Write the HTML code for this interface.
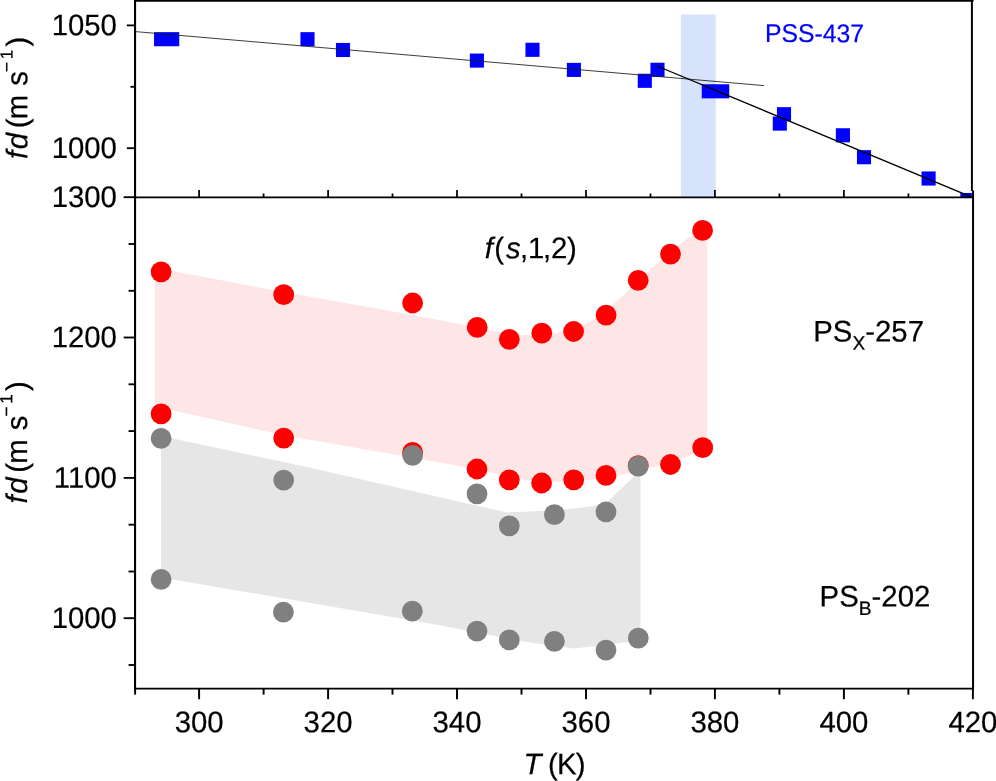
<!DOCTYPE html>
<html><head><meta charset="utf-8"><title>chart</title>
<style>html,body{margin:0;padding:0;background:#fff;}body{width:996px;height:781px;overflow:hidden;position:relative;font-family:"Liberation Sans",sans-serif;}</style></head>
<body>
<svg width="996" height="781" viewBox="0 0 996 781" style="position:absolute;left:0;top:0;display:block;will-change:transform">
<rect x="0" y="0" width="996" height="781" fill="#fff"/>
<rect x="680.9" y="14.4" width="34.8" height="183" fill="#d7e3fa"/>
<polygon points="154.8,267.8 283.7,292.0 412.6,315.0 440.0,320.3 460.0,324.0 477.0,327.0 494.0,331.0 509.3,334.2 525.0,335.3 541.8,334.8 557.0,333.0 573.6,329.0 590.0,321.4 606.1,310.8 622.0,296.6 638.2,281.2 654.6,265.4 670.7,251.6 687.0,238.8 695.0,234.2 702.5,232.0 707.3,231.5 707.3,446.0 702.6,448.5 690.4,455.5 670.5,462.5 649.0,468.6 638.2,471.3 622.0,474.8 606.0,477.8 590.0,480.0 573.7,481.5 557.0,482.0 541.6,481.6 525.0,480.0 509.3,477.5 494.0,473.6 477.0,469.4 460.0,466.2 440.0,462.6 412.6,457.8 330.0,443.3 283.7,435.3 171.3,410.1 154.8,406.4" fill="#ffe6e6"/>
<polygon points="161.1,436.0 300.0,465.5 412.6,491.0 460.0,502.0 477.0,505.8 507.1,512.4 530.0,511.6 554.4,510.3 580.0,507.8 595.7,505.6 606.5,502.4 635.4,475.3 640.4,469.5 640.4,638.5 626.4,642.0 600.0,645.5 574.0,648.6 550.0,645.5 527.4,642.0 500.0,637.0 477.0,632.5 440.0,625.3 283.4,598.3 161.1,577.6" fill="#e6e6e6"/>
<clipPath id="ct"><rect x="135.05" y="0" width="836.85" height="197.3"/></clipPath>
<g clip-path="url(#ct)">
<rect x="300.45" y="32.15" width="14.1" height="14.1" fill="#0000ff"/>
<rect x="335.95" y="42.95" width="14.1" height="14.1" fill="#0000ff"/>
<rect x="469.85" y="53.55" width="14.1" height="14.1" fill="#0000ff"/>
<rect x="525.45" y="42.75" width="14.1" height="14.1" fill="#0000ff"/>
<rect x="566.85" y="62.85" width="14.1" height="14.1" fill="#0000ff"/>
<rect x="637.75" y="73.75" width="14.1" height="14.1" fill="#0000ff"/>
<rect x="650.45" y="62.75" width="14.1" height="14.1" fill="#0000ff"/>
<rect x="776.95" y="107.15" width="14.1" height="14.1" fill="#0000ff"/>
<rect x="772.75" y="116.55" width="14.1" height="14.1" fill="#0000ff"/>
<rect x="835.85" y="128.25" width="14.1" height="14.1" fill="#0000ff"/>
<rect x="856.95" y="150.15" width="14.1" height="14.1" fill="#0000ff"/>
<rect x="921.55" y="171.45" width="14.1" height="14.1" fill="#0000ff"/>
<rect x="960.35" y="192.95" width="14.1" height="14.1" fill="#0000ff"/>
<rect x="154.05" y="32.15" width="25.2" height="14.1" fill="#0000ff"/>
<rect x="701.75" y="84.25" width="27.5" height="14.1" fill="#0000ff"/>
<line x1="135.3" y1="31.6" x2="764" y2="85.6" stroke="#1a1a1a" stroke-width="0.85"/>
<line x1="657" y1="66" x2="973" y2="197.6" stroke="#000" stroke-width="1.35"/>
</g>
<circle cx="161.1" cy="271.8" r="10.4" fill="#ff0000"/>
<circle cx="283.7" cy="294.7" r="10.4" fill="#ff0000"/>
<circle cx="412.6" cy="303.0" r="10.4" fill="#ff0000"/>
<circle cx="477.2" cy="327.4" r="10.4" fill="#ff0000"/>
<circle cx="509.3" cy="339.3" r="10.4" fill="#ff0000"/>
<circle cx="541.8" cy="333.2" r="10.4" fill="#ff0000"/>
<circle cx="573.6" cy="331.5" r="10.4" fill="#ff0000"/>
<circle cx="606.1" cy="315.1" r="10.4" fill="#ff0000"/>
<circle cx="638.2" cy="280.3" r="10.4" fill="#ff0000"/>
<circle cx="670.5" cy="254.1" r="10.4" fill="#ff0000"/>
<circle cx="702.6" cy="230.4" r="10.4" fill="#ff0000"/>
<circle cx="161.1" cy="413.8" r="10.4" fill="#ff0000"/>
<circle cx="283.7" cy="438.1" r="10.4" fill="#ff0000"/>
<circle cx="412.6" cy="452.3" r="10.4" fill="#ff0000"/>
<circle cx="477.0" cy="469.0" r="10.4" fill="#ff0000"/>
<circle cx="509.3" cy="479.8" r="10.4" fill="#ff0000"/>
<circle cx="541.6" cy="483.0" r="10.4" fill="#ff0000"/>
<circle cx="573.7" cy="479.8" r="10.4" fill="#ff0000"/>
<circle cx="606.0" cy="475.4" r="10.4" fill="#ff0000"/>
<circle cx="638.2" cy="465.6" r="10.4" fill="#ff0000"/>
<circle cx="670.5" cy="464.5" r="10.4" fill="#ff0000"/>
<circle cx="702.7" cy="447.7" r="10.4" fill="#ff0000"/>
<circle cx="161.1" cy="438.4" r="10.4" fill="#808080"/>
<circle cx="283.7" cy="480.1" r="10.4" fill="#808080"/>
<circle cx="412.6" cy="455.3" r="10.4" fill="#808080"/>
<circle cx="477.0" cy="493.8" r="10.4" fill="#808080"/>
<circle cx="509.3" cy="525.8" r="10.4" fill="#808080"/>
<circle cx="554.4" cy="514.7" r="10.4" fill="#808080"/>
<circle cx="606.0" cy="511.9" r="10.4" fill="#808080"/>
<circle cx="638.2" cy="466.2" r="10.4" fill="#808080"/>
<circle cx="161.1" cy="579.4" r="10.4" fill="#808080"/>
<circle cx="283.4" cy="612.2" r="10.4" fill="#808080"/>
<circle cx="412.3" cy="611.2" r="10.4" fill="#808080"/>
<circle cx="477.0" cy="631.1" r="10.4" fill="#808080"/>
<circle cx="509.3" cy="639.9" r="10.4" fill="#808080"/>
<circle cx="554.4" cy="641.3" r="10.4" fill="#808080"/>
<circle cx="606.0" cy="650.1" r="10.4" fill="#808080"/>
<circle cx="638.3" cy="638.1" r="10.4" fill="#808080"/>
<g stroke="#000" stroke-linecap="butt" fill="none">
<line x1="135.05" y1="0" x2="135.05" y2="689.5500000000001" stroke-width="2.1"/>
<line x1="971.9" y1="0" x2="971.9" y2="191" stroke-width="1.95"/>
<line x1="973.05" y1="190.4" x2="973.05" y2="689.5500000000001" stroke-width="2.0"/>
<line x1="134.05" y1="0.35" x2="973.6" y2="0.35" stroke-width="2.7"/>
<line x1="134.05" y1="688.6" x2="974.05" y2="688.6" stroke-width="1.9"/>
<line x1="135.05" y1="197.3" x2="973.05" y2="197.3" stroke-width="1.85"/>
<line x1="135.1" y1="688.6" x2="135.1" y2="694.6" stroke-width="1.95"/>
<line x1="199.1" y1="688.6" x2="199.1" y2="699.2" stroke-width="1.95"/>
<line x1="199.1" y1="197.3" x2="199.1" y2="190.10000000000002" stroke-width="1.75"/>
<line x1="263.6" y1="688.6" x2="263.6" y2="694.6" stroke-width="1.95"/>
<line x1="263.6" y1="197.3" x2="263.6" y2="193.5" stroke-width="1.75"/>
<line x1="328.1" y1="688.6" x2="328.1" y2="699.2" stroke-width="1.95"/>
<line x1="328.1" y1="197.3" x2="328.1" y2="190.10000000000002" stroke-width="1.75"/>
<line x1="392.5" y1="688.6" x2="392.5" y2="694.6" stroke-width="1.95"/>
<line x1="392.5" y1="197.3" x2="392.5" y2="193.5" stroke-width="1.75"/>
<line x1="457.0" y1="688.6" x2="457.0" y2="699.2" stroke-width="1.95"/>
<line x1="457.0" y1="197.3" x2="457.0" y2="190.10000000000002" stroke-width="1.75"/>
<line x1="521.5" y1="688.6" x2="521.5" y2="694.6" stroke-width="1.95"/>
<line x1="521.5" y1="197.3" x2="521.5" y2="193.5" stroke-width="1.75"/>
<line x1="586.0" y1="688.6" x2="586.0" y2="699.2" stroke-width="1.95"/>
<line x1="586.0" y1="197.3" x2="586.0" y2="190.10000000000002" stroke-width="1.75"/>
<line x1="650.5" y1="688.6" x2="650.5" y2="694.6" stroke-width="1.95"/>
<line x1="650.5" y1="197.3" x2="650.5" y2="193.5" stroke-width="1.75"/>
<line x1="714.9" y1="688.6" x2="714.9" y2="699.2" stroke-width="1.95"/>
<line x1="714.9" y1="197.3" x2="714.9" y2="190.10000000000002" stroke-width="1.75"/>
<line x1="779.4" y1="688.6" x2="779.4" y2="694.6" stroke-width="1.95"/>
<line x1="779.4" y1="197.3" x2="779.4" y2="193.5" stroke-width="1.75"/>
<line x1="843.9" y1="688.6" x2="843.9" y2="699.2" stroke-width="1.95"/>
<line x1="843.9" y1="197.3" x2="843.9" y2="190.10000000000002" stroke-width="1.75"/>
<line x1="908.4" y1="688.6" x2="908.4" y2="694.6" stroke-width="1.95"/>
<line x1="908.4" y1="197.3" x2="908.4" y2="193.5" stroke-width="1.75"/>
<line x1="972.9" y1="688.6" x2="972.9" y2="699.2" stroke-width="1.95"/>
<line x1="135.05" y1="197.2" x2="123.65" y2="197.2" stroke-width="1.85"/>
<line x1="135.05" y1="244.0" x2="128.55" y2="244.0" stroke-width="1.85"/>
<line x1="135.05" y1="290.8" x2="128.55" y2="290.8" stroke-width="1.85"/>
<line x1="135.05" y1="337.5" x2="123.65" y2="337.5" stroke-width="1.85"/>
<line x1="135.05" y1="384.3" x2="128.55" y2="384.3" stroke-width="1.85"/>
<line x1="135.05" y1="431.1" x2="128.55" y2="431.1" stroke-width="1.85"/>
<line x1="135.05" y1="477.9" x2="123.65" y2="477.9" stroke-width="1.85"/>
<line x1="135.05" y1="524.7" x2="128.55" y2="524.7" stroke-width="1.85"/>
<line x1="135.05" y1="571.5" x2="128.55" y2="571.5" stroke-width="1.85"/>
<line x1="135.05" y1="618.2" x2="123.65" y2="618.2" stroke-width="1.85"/>
<line x1="135.05" y1="665.0" x2="128.55" y2="665.0" stroke-width="1.85"/>
<line x1="135.05" y1="25.4" x2="126.85000000000001" y2="25.4" stroke-width="1.85"/>
<line x1="135.05" y1="86.8" x2="130.45000000000002" y2="86.8" stroke-width="1.85"/>
<line x1="135.05" y1="148.2" x2="126.85000000000001" y2="148.2" stroke-width="1.85"/>
</g>
<g font-family="Liberation Sans, sans-serif" fill="#000" stroke="#000" stroke-width="0.22" stroke-linejoin="round">
<text transform="translate(199.10,732.30) rotate(0.03) scale(0.985,1)" font-size="29.8" text-anchor="middle">300</text>
<text transform="translate(328.06,732.30) rotate(0.03) scale(0.985,1)" font-size="29.8" text-anchor="middle">320</text>
<text transform="translate(457.02,732.30) rotate(0.03) scale(0.985,1)" font-size="29.8" text-anchor="middle">340</text>
<text transform="translate(585.98,732.30) rotate(0.03) scale(0.985,1)" font-size="29.8" text-anchor="middle">360</text>
<text transform="translate(714.94,732.30) rotate(0.03) scale(0.985,1)" font-size="29.8" text-anchor="middle">380</text>
<text transform="translate(843.90,732.30) rotate(0.03) scale(0.985,1)" font-size="29.8" text-anchor="middle">400</text>
<text transform="translate(972.86,732.30) rotate(0.03) scale(0.985,1)" font-size="29.8" text-anchor="middle">420</text>
<text transform="translate(116.90,207.00) rotate(0.03) scale(0.985,1)" font-size="29.8" text-anchor="end">1300</text>
<text transform="translate(116.90,347.35) rotate(0.03) scale(0.985,1)" font-size="29.8" text-anchor="end">1200</text>
<text transform="translate(116.90,487.70) rotate(0.03) scale(0.985,1)" font-size="29.8" text-anchor="end">1100</text>
<text transform="translate(116.90,628.05) rotate(0.03) scale(0.985,1)" font-size="29.8" text-anchor="end">1000</text>
<text transform="translate(116.90,35.20) rotate(0.03) scale(0.985,1)" font-size="29.8" text-anchor="end">1050</text>
<text transform="translate(116.90,157.95) rotate(0.03) scale(0.985,1)" font-size="29.8" text-anchor="end">1000</text>
<text transform="translate(523.50,774.30) rotate(0.03) scale(0.985,1)" font-size="29.8" text-anchor="start"><tspan font-style="italic">T</tspan> <tspan dx="-1.5">(</tspan><tspan dx="-1.0">K</tspan><tspan dx="-0.8">)</tspan></text>
<text transform="translate(484.80,258.20) rotate(0.03) scale(0.985,1)" font-size="29.8" text-anchor="start"><tspan font-style="italic">f</tspan><tspan dx="1.3">(</tspan><tspan font-style="italic" dx="2">s</tspan><tspan dx="-0.7">,1</tspan><tspan dx="-1.5">,2</tspan><tspan dx="-0.4">)</tspan></text>
<text transform="translate(813.30,341.40) rotate(0.03) scale(0.985,1)" font-size="29.8" text-anchor="start">PS<tspan font-size="19.5" dy="8.4">X</tspan><tspan dy="-8.4">-257</tspan></text>
<text transform="translate(819.60,606.50) rotate(0.03) scale(0.985,1)" font-size="29.8" text-anchor="start">PS<tspan font-size="19.5" dy="8.4">B</tspan><tspan dy="-8.4">-202</tspan></text>
<text transform="translate(764.90,42.10) rotate(0.03) scale(0.96,1)" font-size="25.8" text-anchor="start" fill="#0000ff" stroke="#0000ff">PSS-437</text>
<text transform="translate(26.90,503.60) rotate(-89.97) scale(0.985,1)" font-size="29.8" text-anchor="start"><tspan font-style="italic">f</tspan><tspan font-style="italic" dx="1.8">d</tspan> <tspan dx="-3.5">(</tspan><tspan dx="-0.8">m</tspan> <tspan dx="0.8">s</tspan><tspan font-size="17.5" dy="-14.8" dx="-0.9">−</tspan><tspan font-size="17.5" dx="2.6">1</tspan><tspan dy="14.8" dx="3.4">)</tspan></text>
<text transform="translate(27.30,159.10) rotate(-89.97) scale(0.985,1)" font-size="29.8" text-anchor="start"><tspan font-style="italic">f</tspan><tspan font-style="italic" dx="1.8">d</tspan> <tspan dx="-3.5">(</tspan><tspan dx="-0.8">m</tspan> <tspan dx="0.8">s</tspan><tspan font-size="17.5" dy="-14.8" dx="-0.9">−</tspan><tspan font-size="17.5" dx="2.6">1</tspan><tspan dy="14.8" dx="3.4">)</tspan></text>
</g>
</svg>
</body></html>
